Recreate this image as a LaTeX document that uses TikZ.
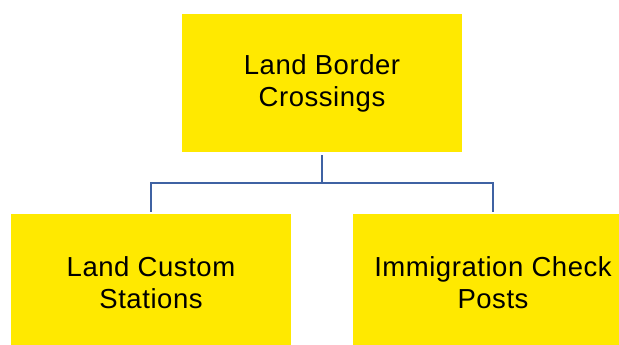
\documentclass[tikz,border=0pt]{standalone}
\usepackage{fontspec}
\setmainfont{Liberation Sans}[LetterSpace=2]
\definecolor{boxyellow}{HTML}{FFE900}
\definecolor{linkblue}{HTML}{3F62A3}
\begin{document}
\begin{tikzpicture}[x=1pt,y=-1pt,
  box/.style={fill=boxyellow, minimum width=280pt, minimum height=138pt, align=center, inner sep=0pt, font=\fontsize{27.5}{32}\selectfont},
  link/.style={draw=linkblue, line width=1.8pt}]
\useasboundingbox (0,0) rectangle (619,345);
\clip (0,0) rectangle (619,345);
\node[box] (top) at (322,83) {Land Border\\Crossings};
\node[box] (left) at (151,283) {Land Custom\\Stations};
\node[box] (right) at (493,283) {Immigration Check\\Posts};
\coordinate (j) at (322,183);
\draw[link] ([yshift=-3pt]top.south) -- (j);
\draw[link] ([yshift=2pt]left.north) |- (j) -| ([yshift=2pt]right.north);
\end{tikzpicture}
\end{document}
